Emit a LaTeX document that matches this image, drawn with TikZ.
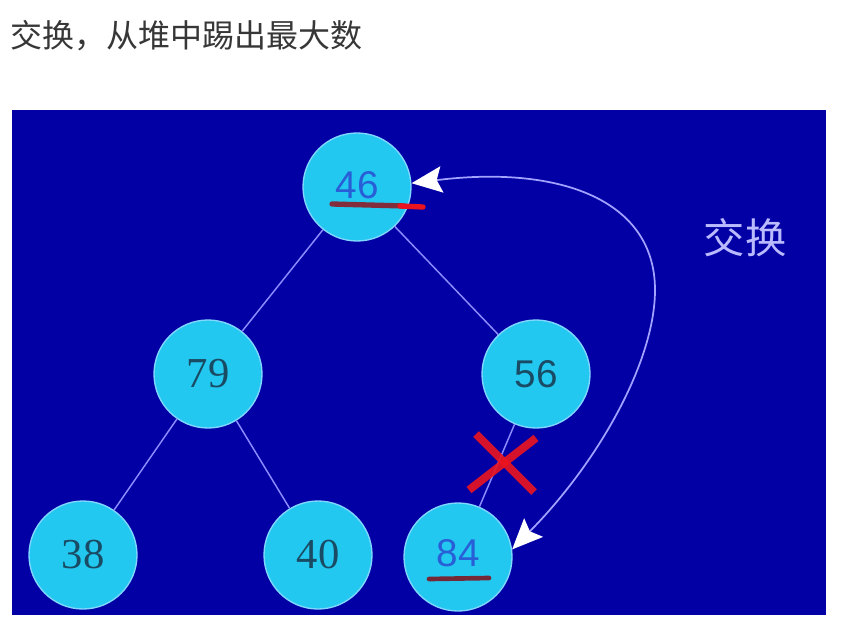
\documentclass[tikz,border=0pt]{standalone}
\usepackage{fontspec}
\setmainfont{Liberation Serif}
\newfontfamily\arialfont{Liberation Sans}
\newfontfamily\cjk{Noto Sans CJK SC}
\usetikzlibrary{positioning, arrows.meta}
\definecolor{SlideBlue}{RGB}{2,0,165}
\definecolor{NodeCyan}{RGB}{35,200,240}
\definecolor{NodeRim}{RGB}{130,215,255}
\definecolor{EdgeLilac}{RGB}{140,140,255}
\definecolor{DigitTeal}{RGB}{25,75,100}
\definecolor{DigitBlue}{RGB}{40,95,215}
\definecolor{TitleGray}{RGB}{55,55,55}
\definecolor{MarkRed}{RGB}{235,20,30}
\definecolor{MarkBrown}{RGB}{130,45,60}

\tikzset{
  heapnode/.style={circle, draw=NodeRim, line width=1pt, fill=NodeCyan, minimum size=81pt, inner sep=0pt,
    font=\fontsize{32}{32}\selectfont, text=DigitTeal},
  sansdigit/.style={font=\arialfont\fontsize{29}{29}\selectfont},
  heapedge/.style={draw=EdgeLilac, line width=1.1pt},
  swaparrow/.style={draw=EdgeLilac!80!white, line width=1.3pt,
    {Stealth[length=23pt, width=20pt, inset=4pt, fill=white, line width=0pt]}-{Stealth[length=23pt, width=20pt, inset=4pt, fill=white, line width=0pt]}},
  underbar/.style={line width=4pt, line cap=round},
  crossbar/.style={draw=MarkRed, opacity=0.9, line width=6pt}
}

\begin{document}
\begin{tikzpicture}[x=0.75pt, y=-0.75pt]
  \useasboundingbox (0,0) rectangle (862,638);
  \fill[white] (0,0) rectangle (862,638);

  % title above the slide
  \node[anchor=west, inner sep=0pt, text=TitleGray, font=\cjk\fontsize{24}{24}\selectfont] (title) at (10,36) {交换，从堆中踢出最大数};

  % slide background
  \fill[SlideBlue] (12,110) rectangle (826,615);

  % the heap
  \node[heapnode, text=DigitBlue, sansdigit] (n46) at (357,187) {\raisebox{3pt}{46}};
  \node[heapnode] (n79) at (208,374) {79};
  \node[heapnode, sansdigit] (n56) at (536,374) {56};
  \node[heapnode] (n38) at (83,555) {38};
  \node[heapnode] (n40) at (318,555) {40};
  \node[heapnode, text=DigitBlue, sansdigit] (n84) at (458,557) {\raisebox{6pt}{84}};

  \draw[heapedge] (n46) -- (n79);
  \draw[heapedge] (n46) -- (n56);
  \draw[heapedge] (n79) -- (n38);
  \draw[heapedge] (n79) -- (n40);
  \draw[heapedge] (n56) -- (n84);

  % swap arrow
  \coordinate (turn) at (655,290);
  \draw[swaparrow] (n46.4) .. controls (560,165) and (655,200) .. (turn)
    .. controls (655,360) and (600,460) .. (n84.8);
  \node[text=EdgeLilac!60!white, font=\cjk\fontsize{31}{31}\selectfont] (swaplabel) at (745,238) {交换};

  % marks
  \draw[underbar, MarkBrown] (332,204) -- (405,206);
  \draw[underbar, MarkRed] (400,206) -- (423,207);
  \draw[underbar, MarkBrown!90!black, line width=3.5pt] (429,579) -- (489,578);
  \draw[crossbar] (476,434) -- (534,492);
  \draw[crossbar] (469,490) -- (536,438);
\end{tikzpicture}
\end{document}
